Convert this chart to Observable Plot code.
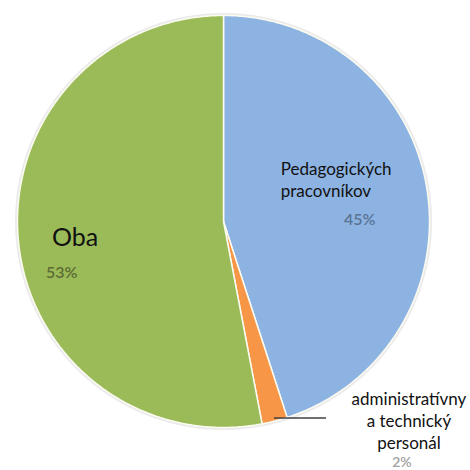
<!DOCTYPE html>
<html>
<head>
<meta charset="utf-8">
<script src="https://cdn.jsdelivr.net/npm/d3@7"></script>
<script src="https://cdn.jsdelivr.net/npm/@observablehq/plot@0.6"></script>
<style>
  html, body { margin: 0; padding: 0; background: #fff; }
  #chart { width: 470px; height: 470px; overflow: hidden; }
</style>
</head>
<body>
<div id="chart"></div>
<script>
const categories = ["Pedagogických pracovníkov", "administratívny a technický personál", "Oba"];
const values = [45, 2, 53];
const percentLabels = ["45%", "2%", "53%"];
const colors = ["#8db3e2", "#f79646", "#9bbb59"];

const rows = categories.map((c, i) => ({category: c, value: values[i], pct: percentLabels[i], color: colors[i]}));
const arcs = d3.pie().sort(null).value(d => d.value)(rows);

function slicePoints(a) {
  const n = Math.max(4, Math.ceil((a.endAngle - a.startAngle) / 0.01));
  const pts = [{x: 0, y: 0}];
  for (let k = 0; k <= n; k++) {
    const t = a.startAngle + (a.endAngle - a.startAngle) * k / n;
    pts.push({x: Math.sin(t), y: Math.cos(t)});
  }
  pts.push({x: 0, y: 0});
  return pts;
}
const mid = a => (a.startAngle + a.endAngle) / 2;
const anchor = (a, f) => ({x: Math.sin(mid(a)) * f, y: Math.cos(mid(a)) * f, category: a.data.category, pct: a.data.pct});

const [aBlue, aOrange, aGreen] = arcs;
const blueAnchor = anchor(aBlue, 0.65);
const greenAnchor = anchor(aGreen, 0.7);
const orangeAnchor = anchor(aOrange, 0.985);
const pxToData = 1 / 206;

const font = "Lato, 'Open Sans', sans-serif";

const chart = Plot.plot({
  width: 470,
  height: 470,
  margin: 0,
  style: {fontFamily: font, background: "transparent"},
  x: {domain: [-1, 1], range: [17, 429], axis: null},
  y: {domain: [-1, 1], range: [427, 15], axis: null},
  marks: [
    Plot.line(slicePoints({startAngle: 0, endAngle: 2 * Math.PI}).slice(1, -1), {x: "x", y: "y", stroke: "#e6e6e6", strokeWidth: 5, strokeOpacity: 0.8}),
    ...arcs.map(a => Plot.line(slicePoints(a), {x: "x", y: "y", fill: a.data.color, stroke: "#fbfbf0", strokeWidth: 1.5, strokeLinejoin: "round"})),
    Plot.text([blueAnchor], {x: "x", y: "y", text: "category", lineWidth: 8, lineHeight: 1.3, textAnchor: "start", lineAnchor: "middle", dx: -75, dy: -22, fontSize: 17, fill: "#111"}),
    Plot.text([blueAnchor], {x: "x", y: "y", text: "pct", textAnchor: "middle", dx: 4, dy: 19, fontSize: 16, fill: "#5a7394", fontWeight: 600}),
    Plot.text([greenAnchor], {x: "x", y: "y", text: "category", textAnchor: "start", dx: -28, dy: 3, fontSize: 25, fill: "#111"}),
    Plot.text([greenAnchor], {x: "x", y: "y", text: "pct", textAnchor: "start", dx: -34, dy: 38, fontSize: 16, fill: "#5b6b33", fontWeight: 600}),
    Plot.link([orangeAnchor], {x1: "x", y1: "y", x2: d => d.x + 52 * pxToData, y2: "y", stroke: "#404040", strokeWidth: 1.5}),
    Plot.text([orangeAnchor], {x: "x", y: "y", text: "category", lineWidth: 8, lineHeight: 1.3, textAnchor: "middle", lineAnchor: "middle", dx: 135, dy: 2, fontSize: 17, fill: "#111"}),
    Plot.text([orangeAnchor], {x: "x", y: "y", text: "pct", textAnchor: "middle", dx: 128, dy: 44, fontSize: 14, fill: "#a0a0a0", fontWeight: 600})
  ]
});
document.getElementById("chart").appendChild(chart);
</script>
</body>
</html>
